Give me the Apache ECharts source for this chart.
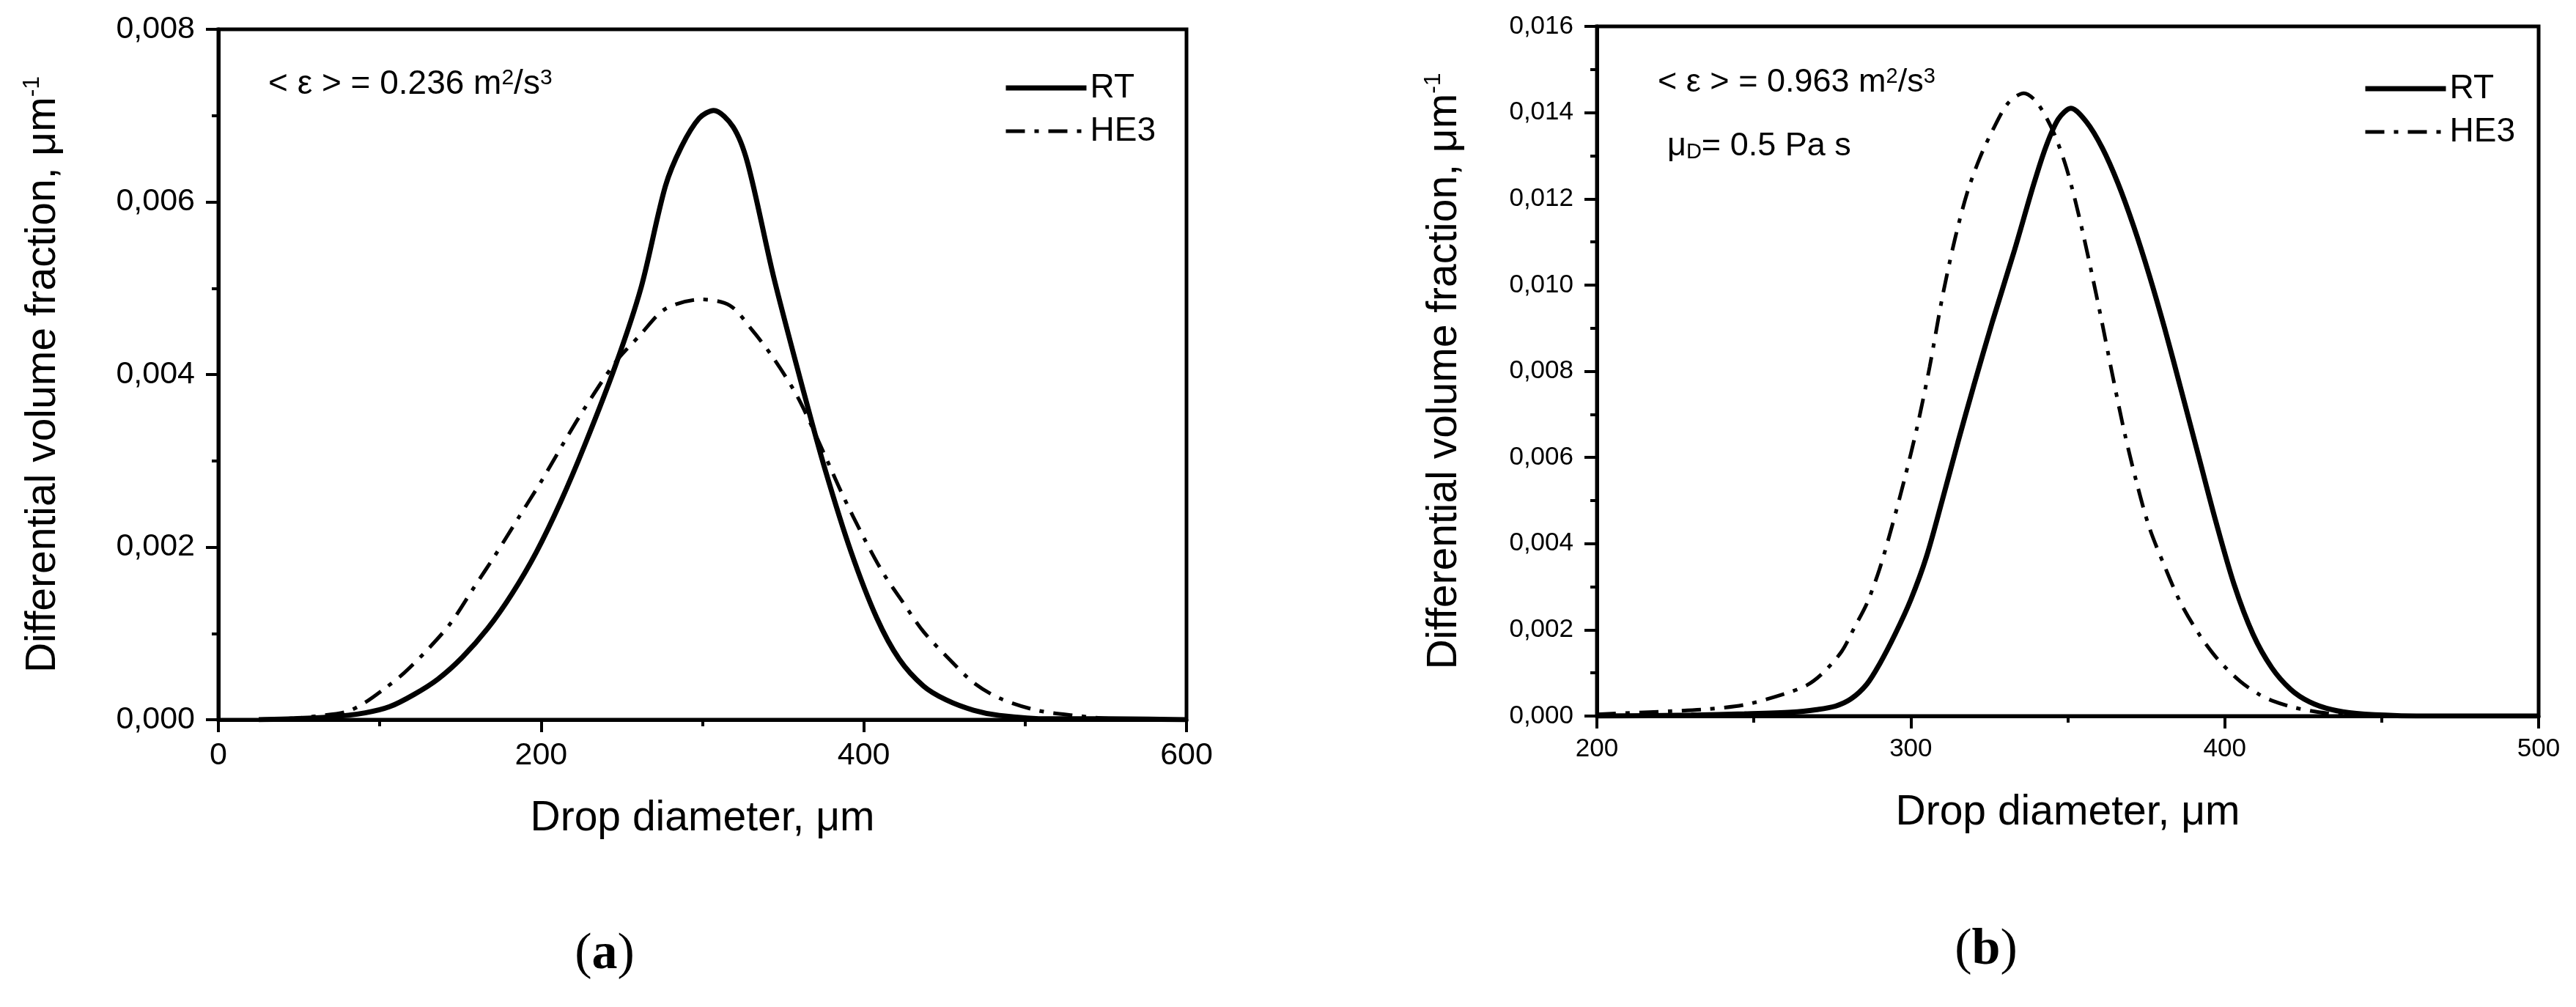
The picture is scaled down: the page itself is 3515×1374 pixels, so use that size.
<!DOCTYPE html>
<html>
<head>
<meta charset="utf-8">
<script src="https://cdn.jsdelivr.net/npm/echarts@6/dist/echarts.min.js"></script>
<style>
  html, body { margin: 0; padding: 0; background: #fff; }
  #main { width: 3515px; height: 1374px; }
</style>
</head>
<body>
<div id="main"></div>
<script>
// panel (a): <eps> = 0.236
var rtA_x = [25, 45, 68, 91, 106, 121, 136, 151, 167, 182, 197, 212, 227, 246, 262, 277, 287, 298, 307, 319, 328, 344, 363, 376, 392, 408, 422, 437, 451, 468, 484, 515, 550, 600];
var rtA_y = [0, 0.00001, 0.00003, 0.00008, 0.00015, 0.00029, 0.00047, 0.00072, 0.00106, 0.00146, 0.00194, 0.00252, 0.00318, 0.00410, 0.00501, 0.00618, 0.00664, 0.00697, 0.00706, 0.00687, 0.00645, 0.00514, 0.00378, 0.00290, 0.00195, 0.00118, 0.00070, 0.00039, 0.00023, 0.00011, 0.00005, 0.00001, 0.00001, 0];
var he3A_x = [40, 60, 79, 91, 103, 115, 129, 144, 159, 171, 186, 201, 215, 226, 246, 261, 277, 299, 317, 331, 344, 359, 375, 387, 400, 412, 425, 437, 453, 468, 484, 507, 530, 554, 600];
var he3A_y = [0, 0.00004, 0.00009, 0.00020, 0.00036, 0.00054, 0.00080, 0.00112, 0.00155, 0.00189, 0.00234, 0.00279, 0.00324, 0.00358, 0.00414, 0.00445, 0.00476, 0.00487, 0.00480, 0.00451, 0.00419, 0.00374, 0.00310, 0.00260, 0.00211, 0.00170, 0.00134, 0.00102, 0.00070, 0.00043, 0.00025, 0.00011, 0.00005, 0.00001, 0];

// panel (b): <eps> = 0.963, muD = 0.5
var rtB_x = [200, 230, 247, 262, 270, 276, 281, 286, 290, 295, 300, 305, 310, 315, 320, 326, 333, 339, 343, 347, 351, 356, 361, 366, 371, 376, 381, 386, 392, 397, 403, 409, 415, 421, 427, 434, 442, 455, 470, 500];
var rtB_y = [0, 0.00002, 0.00005, 0.00009, 0.00015, 0.00023, 0.00040, 0.00074, 0.00120, 0.00190, 0.00270, 0.00370, 0.00500, 0.00635, 0.00765, 0.00915, 0.01080, 0.01230, 0.01320, 0.01385, 0.01410, 0.01378, 0.01318, 0.01236, 0.01136, 0.01022, 0.00896, 0.00760, 0.00594, 0.00456, 0.00305, 0.00190, 0.00112, 0.00062, 0.00033, 0.00015, 0.00006, 0.00001, 0, 0];
var he3B_x = [200, 223, 235, 247, 260, 267, 272, 278, 282, 286, 290, 294, 298, 302, 306, 310, 314, 318, 322, 326, 331, 336, 340, 345, 349, 352, 355, 358, 361, 364, 368, 372, 376, 381, 386, 392, 398, 405, 411, 415, 422, 430, 438, 450];
var he3B_y = [0.00004, 0.00011, 0.00016, 0.00026, 0.00052, 0.00072, 0.00100, 0.00150, 0.00205, 0.00261, 0.00340, 0.00440, 0.00550, 0.00670, 0.00810, 0.00970, 0.01105, 0.01215, 0.01295, 0.01358, 0.01422, 0.01445, 0.01425, 0.01362, 0.01285, 0.01207, 0.01115, 0.01015, 0.00910, 0.00800, 0.00660, 0.00540, 0.00437, 0.00345, 0.00262, 0.00188, 0.00130, 0.00080, 0.00050, 0.00036, 0.00020, 0.00009, 0.00003, 0];

var FONT = 'Liberation Sans, Arial, sans-serif';

function pairs(xs, ys) {
  var out = [];
  for (var i = 0; i < xs.length; i++) out.push([xs[i], ys[i]]);
  return out;
}

function yFmt(v) { return v.toFixed(3).replace('.', ','); }

var supRich = {
  sup: { fontSize: 32, verticalAlign: 'top', fontFamily: FONT, color: '#000' }
};

function xAxisOf(idx, mn, mx, step, labelSize, gap) {
  return {
    gridIndex: idx, type: 'value', min: mn, max: mx, interval: step,
    axisLine: { onZero: false, lineStyle: { color: '#000', width: 5 } },
    axisTick: { length: 17, lineStyle: { color: '#000', width: 4 } },
    minorTick: { show: true, splitNumber: 2, length: 9, lineStyle: { color: '#000', width: 4 } },
    splitLine: { show: false },
    axisLabel: { fontSize: labelSize, margin: 28, color: '#000', fontFamily: FONT },
    name: 'Drop diameter, μm', nameLocation: 'middle', nameGap: gap,
    nameTextStyle: { fontSize: 57, color: '#000', fontFamily: FONT }
  };
}

function yAxisOf(idx, mx, labelSize, gap) {
  return {
    gridIndex: idx, type: 'value', min: 0, max: mx, interval: 0.002,
    axisLine: { onZero: false, lineStyle: { color: '#000', width: 5 } },
    axisTick: { length: 17, lineStyle: { color: '#000', width: 4 } },
    minorTick: { show: true, splitNumber: 2, length: 9, lineStyle: { color: '#000', width: 4 } },
    splitLine: { show: false },
    axisLabel: { fontSize: labelSize, margin: 32, color: '#000', fontFamily: FONT, formatter: yFmt },
    name: 'Differential volume fraction, μm{sup|-1}', nameLocation: 'middle', nameGap: gap,
    nameTextStyle: { fontSize: 57, lineHeight: 62, color: '#000', fontFamily: FONT, rich: supRich }
  };
}

function legendOf(left, top) {
  return {
    left: left, top: top, orient: 'vertical', selectedMode: false,
    data: ['RT', 'HE3'],
    itemWidth: 110, itemHeight: 20, itemGap: 13,
    itemStyle: { opacity: 0, borderWidth: 0 },
    lineStyle: { width: 'inherit' },
    textStyle: { fontSize: 46, lineHeight: 46, color: '#000', fontFamily: FONT }
  };
}

function lineOf(name, data, xi, dashed) {
  return {
    name: name, type: 'line', xAxisIndex: xi, yAxisIndex: xi,
    data: data, smooth: 0.3, showSymbol: false, symbol: 'none',
    itemStyle: { color: '#000' },
    lineStyle: dashed
      ? { color: '#000', width: 5, type: [26, 13, 6, 13], cap: 'butt' }
      : { color: '#000', width: 7 }
  };
}

function label(x, y, txt, size, extra) {
  var st = {
    text: txt, x: 0, y: 0, fill: '#000',
    font: size + 'px ' + FONT,
    align: 'left', verticalAlign: 'middle',
    textAlign: 'left', textVerticalAlign: 'middle',
    rich: {
      sup: { fontSize: Math.round(size * 0.65), verticalAlign: 'top', fontFamily: FONT, fill: '#000' },
      sub: { fontSize: Math.round(size * 0.65), verticalAlign: 'bottom', fontFamily: FONT, fill: '#000' },
      b: { fontWeight: 'bold', fontSize: size, fontFamily: 'Liberation Serif, Times New Roman, serif', fill: '#000' }
    }
  };
  if (extra) for (var k in extra) st[k] = extra[k];
  return { type: 'text', x: x, y: y, style: st };
}

var chart = echarts.init(document.getElementById('main'), null, { renderer: 'canvas' });

var option = {
  backgroundColor: '#fff',
  animation: false,
  grid: [
    { left: 298, top: 40, width: 1321, height: 942, show: true, borderColor: '#000', borderWidth: 5 },
    { left: 2179, top: 36, width: 1285, height: 941, show: true, borderColor: '#000', borderWidth: 5 }
  ],
  xAxis: [
    xAxisOf(0, 0, 600, 200, 43, 107),
    xAxisOf(1, 200, 500, 100, 35, 104)
  ],
  yAxis: [
    yAxisOf(0, 0.008, 43, 208),
    yAxisOf(1, 0.016, 35, 177)
  ],
  legend: [legendOf(1364, 92), legendOf(3219, 93)],
  series: [
    lineOf('RT', pairs(rtA_x, rtA_y), 0, false),
    lineOf('HE3', pairs(he3A_x, he3A_y), 0, true),
    lineOf('RT', pairs(rtB_x, rtB_y), 1, false),
    lineOf('HE3', pairs(he3B_x, he3B_y), 1, true)
  ],
  graphic: [
    label(366, 115, '< ε > = 0.236 m{sup|2}/s{sup|3}', 46),
    label(2262, 113, '< ε > = 0.963 m{sup|2}/s{sup|3}', 45),
    label(2275, 200, 'μ{sub|D}= 0.5 Pa s', 45),
    label(825, 1303, '({b|a})', 70, { align: 'center', textAlign: 'center', font: '70px Liberation Serif, Times New Roman, serif' }),
    label(2710, 1297, '({b|b})', 70, { align: 'center', textAlign: 'center', font: '70px Liberation Serif, Times New Roman, serif' })
  ]
};

chart.setOption(option);
</script>
</body>
</html>
